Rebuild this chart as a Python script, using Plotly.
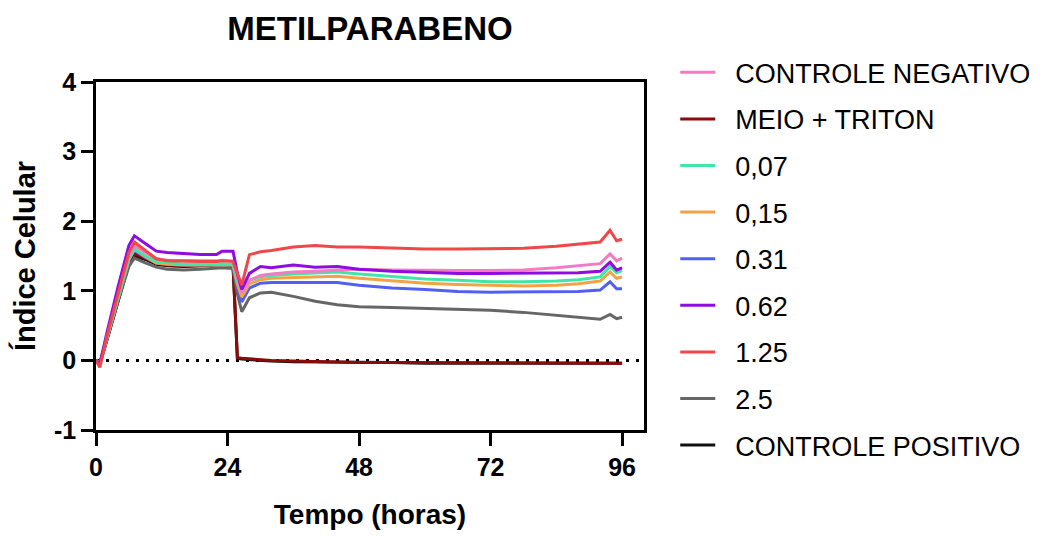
import plotly.graph_objects as go

# Time (hours)
tempo = [0, 0.7, 2, 4, 6, 7, 9, 11, 13, 16, 19, 22, 23, 25, 25.8, 26.6, 28, 30, 32, 36,
         40, 44, 48, 54, 60, 66, 72, 78, 84, 88, 92, 93.8, 95, 96]

controle_negativo = [0, -0.05, 0.35, 0.95, 1.50, 1.65, 1.55, 1.46, 1.44, 1.43, 1.43, 1.43, 1.44, 1.43,
                     1.20, 0.97, 1.15, 1.22, 1.24, 1.27, 1.28, 1.30, 1.31, 1.30, 1.29, 1.29, 1.29,
                     1.30, 1.33, 1.36, 1.39, 1.53, 1.43, 1.47]
meio_triton = [0, -0.05, 0.30, 0.85, 1.40, 1.53, 1.47, 1.40, 1.37, 1.36, 1.37, 1.38, 1.38, 1.37,
               0.04, 0.03, 0.02, 0.01, 0.00, -0.01, -0.02, -0.02, -0.03, -0.03, -0.03, -0.03, -0.04,
               -0.04, -0.04, -0.04, -0.04, -0.04, -0.04, -0.04]
c_007 = [0, -0.05, 0.33, 0.90, 1.45, 1.60, 1.50, 1.42, 1.40, 1.38, 1.38, 1.39, 1.39, 1.38,
         1.15, 0.98, 1.15, 1.20, 1.22, 1.24, 1.25, 1.27, 1.24, 1.20, 1.17, 1.15, 1.13,
         1.13, 1.14, 1.16, 1.20, 1.35, 1.26, 1.29]
c_015 = [0, -0.05, 0.33, 0.90, 1.45, 1.60, 1.49, 1.40, 1.38, 1.37, 1.37, 1.37, 1.38, 1.37,
         1.10, 0.91, 1.10, 1.16, 1.18, 1.19, 1.20, 1.21, 1.18, 1.14, 1.11, 1.09, 1.08,
         1.07, 1.08, 1.10, 1.14, 1.27, 1.18, 1.20]
c_031 = [0, -0.05, 0.33, 0.90, 1.45, 1.58, 1.48, 1.40, 1.38, 1.37, 1.37, 1.37, 1.38, 1.37,
         1.05, 0.84, 1.04, 1.11, 1.12, 1.12, 1.12, 1.12, 1.08, 1.04, 1.02, 0.99, 0.98,
         0.98, 0.98, 0.99, 1.01, 1.13, 1.03, 1.03]
c_062 = [0, -0.05, 0.40, 1.05, 1.65, 1.79, 1.68, 1.57, 1.55, 1.53, 1.52, 1.52, 1.57, 1.57,
         1.25, 1.02, 1.25, 1.35, 1.33, 1.37, 1.34, 1.35, 1.31, 1.28, 1.26, 1.25, 1.25,
         1.25, 1.25, 1.26, 1.28, 1.41, 1.30, 1.33]
c_125 = [0, -0.10, 0.35, 0.95, 1.55, 1.70, 1.58, 1.46, 1.43, 1.42, 1.42, 1.42, 1.43, 1.42,
         1.25, 1.08, 1.52, 1.56, 1.58, 1.63, 1.65, 1.63, 1.63, 1.61, 1.60, 1.60, 1.60,
         1.61, 1.64, 1.67, 1.70, 1.87, 1.72, 1.74]
c_25 = [0, -0.05, 0.30, 0.85, 1.35, 1.47, 1.40, 1.34, 1.31, 1.30, 1.31, 1.32, 1.33, 1.32,
        0.95, 0.70, 0.90, 0.97, 0.98, 0.92, 0.85, 0.80, 0.77, 0.76, 0.75, 0.74, 0.72,
        0.69, 0.65, 0.62, 0.59, 0.66, 0.60, 0.62]
controle_positivo = [0, -0.05, 0.30, 0.85, 1.38, 1.50, 1.45, 1.38, 1.36, 1.35, 1.36, 1.37, 1.37, 1.36,
                     0.03, 0.02, 0.01, 0.00, -0.01, -0.02, -0.02, -0.03, -0.03, -0.03, -0.04, -0.04, -0.04,
                     -0.04, -0.04, -0.04, -0.04, -0.04, -0.04, -0.04]

series_names = ["CONTROLE NEGATIVO", "MEIO + TRITON", "0,07", "0,15", "0.31", "0.62", "1.25", "2.5",
                "CONTROLE POSITIVO"]
series_values = [controle_negativo, meio_triton, c_007, c_015, c_031, c_062, c_125, c_25, controle_positivo]
series_colors = ["#F27BC3", "#8B0A0A", "#3FE6A6", "#F5A246", "#5160F2", "#8F0BE0", "#F04848", "#666666",
                 "#111111"]

x_ticks = [0, 24, 48, 72, 96]
y_ticks = [-1, 0, 1, 2, 3, 4]
y_tick_labels = ["-1", "0", "1", "2", "3", "4"]

# draw order: positive control underneath, then others
draw_order = [8, 1, 7, 4, 3, 2, 0, 5, 6]

NBSP = "\u00a0"
fig = go.Figure()
for i in draw_order:
    fig.add_trace(go.Scatter(
        x=tempo, y=series_values[i], mode="lines", name=NBSP * 2 + series_names[i],
        line=dict(color=series_colors[i], width=3),
        legendrank=i + 1, legendgroup=f"g{i}",
    ))

fig.add_shape(type="line", xref="x", yref="y", x0=0, x1=100, y0=0, y1=0,
              line=dict(color="black", width=3, dash="3px,7px"), layer="below")

font_family = "Liberation Sans, Arial, sans-serif"

# page body has an 8px margin, so the figure is drawn 8px smaller and offset
W, H = 1037, 528
fig.update_layout(
    width=W, height=H,
    margin=dict(l=88, r=W - 88 - 548, t=74, b=H - 74 - 348, autoexpand=False),
    paper_bgcolor="white", plot_bgcolor="white",
    title=dict(text="<b>METILPARABENO</b>", x=0.5, xref="paper", xanchor="center",
               y=1 - 20 / H, yref="container", yanchor="middle",
               font=dict(family=font_family, size=33, color="black")),
    showlegend=True,
    legend=dict(x=1.057, xanchor="left", y=1.097, yanchor="top",
                font=dict(family=font_family, size=27, color="black"),
                traceorder="grouped", tracegroupgap=8.5, itemwidth=35, maxheight=1000,
                bgcolor="rgba(0,0,0,0)"),
    xaxis=dict(range=[0, 100], tickvals=x_ticks, ticks="outside", ticklen=13,
               tickwidth=2.5, tickcolor="black", showline=True, linewidth=2.5, linecolor="black",
               mirror=True, showgrid=False, zeroline=False, automargin=False,
               tickfont=dict(family=font_family, size=25, color="black", weight="bold"),
               title=dict(text="<b>Tempo (horas)</b>", standoff=25,
                          font=dict(family=font_family, size=28, color="black"))),
    yaxis=dict(range=[-1, 4], tickvals=y_ticks, ticktext=y_tick_labels, ticks="outside", ticklen=12,
               tickwidth=2.5, tickcolor="black", showline=True, linewidth=2.5, linecolor="black",
               mirror=True, showgrid=False, zeroline=False, automargin=False,
               tickfont=dict(family=font_family, size=25, color="black", weight="bold"),
               title=dict(text="<b>Índice Celular</b>", standoff=20,
                          font=dict(family=font_family, size=29, color="black"))),
)

fig.write_html("out.html")
